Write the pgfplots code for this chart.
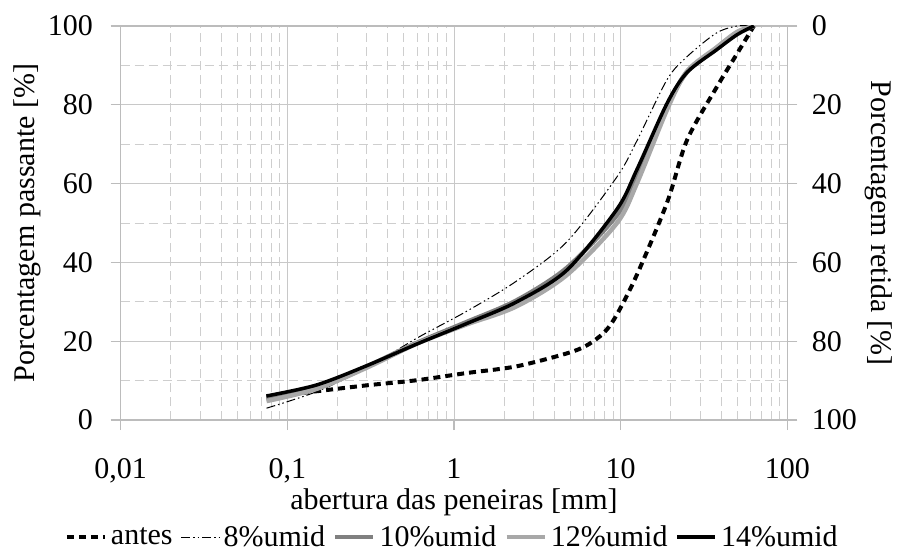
\documentclass[border=0pt]{standalone}
\usepackage{fontspec}
\setmainfont{Liberation Serif}
\usepackage{pgfplots}
\pgfplotsset{compat=1.18}

\definecolor{gridmaj}{RGB}{200,200,200}
\definecolor{gridmin}{RGB}{206,206,206}
\definecolor{axisc}{RGB}{188,188,188}
\definecolor{g10}{RGB}{128,128,128}
\definecolor{g12}{RGB}{168,168,168}

\begin{document}
\begin{tikzpicture}
\pgfplotsset{
  every axis/.append style={font=\fontsize{30bp}{36bp}\selectfont},
  /pgf/number format/assume math mode=true,
}
% passing curves (left axis)
\begin{axis}[
  scale only axis, width=666.6bp, height=394bp,
  xmode=log, log basis x=10,
  xmin=0.01, xmax=100, ymin=0, ymax=100,
  xtick={0.01,0.1,1,10,100},
  xticklabels={{0,01},{0,1},1,10,100},
  minor xtick={0.02,0.03,0.04,0.05,0.06,0.07,0.08,0.09,
               0.2,0.3,0.4,0.5,0.6,0.7,0.8,0.9,
               2,3,4,5,6,7,8,9,
               20,30,40,50,60,70,80,90},
  ytick={0,20,40,60,80,100},
  minor ytick={10,30,50,70,90},
  grid=both,
  major grid style={draw=gridmaj, line width=0.9bp},
  minor grid style={draw=gridmin, line width=0.9bp, dash pattern=on 9bp off 5bp},
  axis line style={draw=axisc, line width=1.2bp},
  xtick pos=bottom, ytick pos=left,
  tick align=outside, major tick length=10bp, minor tick length=0bp,
  major tick style={draw=axisc, line width=1.2bp},
  yticklabel style={anchor=east, inner sep=0pt, xshift=-17.7bp},
  xticklabel style={anchor=north, inner sep=0pt, yshift=-28bp},
  xlabel={abertura das peneiras [mm]},
  xlabel style={at={(axis description cs:0.5,-0.2284)}, anchor=base},
  ylabel={Porcentagem passante [\%]},
  ylabel style={at={(axis description cs:-0.1287,0.5)}, anchor=base},
  legend style={at={(axis description cs:0.496,-0.297)}, anchor=center,
    draw=none, fill=none, legend columns=-1, nodes={inner sep=0pt},
    /tikz/every odd column/.append style={column sep=4bp},
    /tikz/every even column/.append style={column sep=8bp}},
  legend image code/.code={\draw[#1] (0bp,0bp) -- (38bp,0bp);},
]
\addplot[black, line width=4bp, dash pattern=on 7bp off 5bp, smooth] table {
x y
0.075 5.8
0.15 7.3
0.3 8.8
0.6 10.1
1.18 11.9
2.36 13.6
4.75 16.9
6.3 19.0
8.0 22.3
9.5 26.8
12.5 36.8
19 55.2
25 71.0
37.5 84.3
50 93.0
63 100
};
\addlegendentry{antes}
\addplot[black, line width=1bp, dash pattern=on 9bp off 3bp on 1.5bp off 3bp on 1.5bp off 3bp, smooth] table {
x y
0.075 3.0
0.15 7.2
0.3 13.2
0.6 20.8
1.18 27.5
2.36 35.2
4.75 45.2
9.5 61.7
12.5 70.8
19 86.4
25 92.2
37.5 98.2
50 100
63 100
};
\addlegendentry{8\%umid}
\addplot[g10, line width=4.5bp, smooth] table {
x y
0.075 5.3
0.15 8.3
0.3 13.6
0.6 19.6
1.18 24.8
2.36 30.3
4.75 38.6
9.5 52.0
12.5 61.5
19 79.5
25 88.3
37.5 94.3
50 98.3
63 100
};
\addlegendentry{10\%umid}
\addplot[g12, line width=4.5bp, smooth] table {
x y
0.075 4.8
0.15 7.9
0.3 13.3
0.6 19.4
1.18 24.2
2.36 28.8
4.75 36.8
9.5 50.0
12.5 60.0
19 78.8
25 88.5
37.5 94.5
50 98.5
63 100
};
\addlegendentry{12\%umid}
\addplot[black, line width=3.5bp, smooth] table {
x y
0.075 6.1
0.15 8.9
0.3 13.8
0.6 19.3
1.18 24.4
2.36 29.9
4.75 38.0
9.5 53.5
12.5 63.5
19 80.4
25 88.2
37.5 93.9
50 97.8
63 100
};
\addlegendentry{14\%umid}
\end{axis}
% retained percentage (right axis)
\begin{axis}[
  scale only axis, width=666.6bp, height=394bp,
  xmode=log, xmin=0.01, xmax=100, hide x axis,
  ymin=0, ymax=100, y dir=reverse,
  axis y line*=right,
  ytick={0,20,40,60,80,100},
  axis line style={draw=axisc, line width=1.2bp},
  tick align=outside, major tick length=10bp,
  major tick style={draw=axisc, line width=1.2bp},
  yticklabel style={anchor=west, inner sep=0pt, xshift=14.4bp},
  ylabel={Porcentagem retida [\%]},
  ylabel style={at={(axis description cs:1.1256,0.5)}, anchor=base, rotate=180},
]
\end{axis}
\pgfresetboundingbox
\path[use as bounding box] (-120.7bp,-136bp) rectangle (776.3bp,420bp);
\end{tikzpicture}
\end{document}
